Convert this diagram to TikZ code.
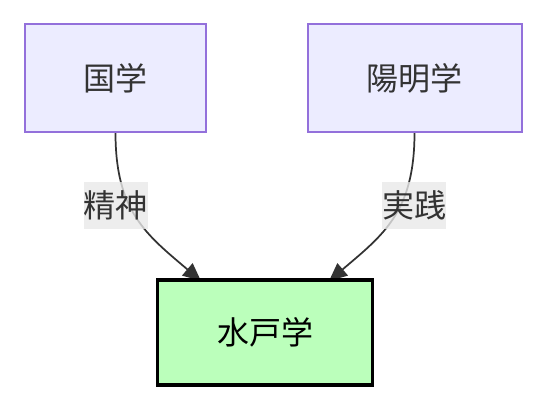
\documentclass[tikz,border=0pt]{standalone}
\usepackage{fontspec}
\setmainfont{Noto Sans CJK JP}
\usetikzlibrary{arrows.meta,backgrounds}
\definecolor{nodefill}{HTML}{ECECFF}
\definecolor{nodeline}{HTML}{9370DB}
\definecolor{ink}{HTML}{333333}
\definecolor{greenfill}{HTML}{BBFFBB}
\definecolor{labelbg}{HTML}{E8E8E8}
\begin{document}
\begin{tikzpicture}[x=0.75pt,y=-0.75pt,
  topbox/.style={draw=nodeline, fill=nodefill, line width=1.5pt, text=ink,
    inner sep=0pt, minimum height=81pt,
    font=\fontsize{24pt}{36pt}\selectfont},
  mitobox/.style={draw=black, fill=greenfill, line width=2.6pt, text=black,
    inner sep=0pt, minimum width=161pt, minimum height=79pt,
    font=\fontsize{24pt}{36pt}\selectfont},
  elabel/.style={fill=labelbg, fill opacity=0.8, text opacity=1, text=ink,
    inner sep=0pt, minimum width=48pt, minimum height=35.25pt,
    font=\fontsize{24pt}{36pt}\selectfont},
  edge/.style={draw=ink, line width=1.3pt,
    -{Triangle[length=13.5pt,width=12pt]}}
]
\useasboundingbox (0,0) rectangle (533,405);
\node[topbox, minimum width=136pt] (kokugaku) at (115.5,78) {国学};
\node[topbox, minimum width=160.5pt] (yomei) at (414.5,78) {陽明学};
\node[mitobox] (mito) at (265,332.5) {水戸学};
\coordinate (tipL) at (201,281);
\coordinate (tipR) at (329,281);
\begin{scope}[on background layer]
\draw[edge] (kokugaku.south) .. controls (115.5,212) and (147,235) .. (tipL);
\draw[edge] (yomei.south) .. controls (414.5,212) and (383,235) .. (tipR);
\end{scope}
\node[elabel] (lab1) at (116,205.5) {精神};
\node[elabel] (lab2) at (414,205.5) {実践};
\end{tikzpicture}
\end{document}
